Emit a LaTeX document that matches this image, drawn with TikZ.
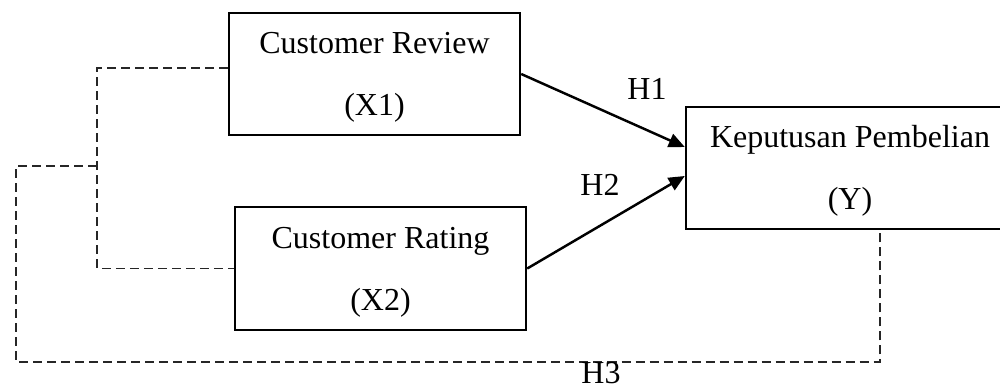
\documentclass[tikz,border=0pt]{standalone}
\usepackage{fontspec}
\setmainfont{Liberation Serif}
\usetikzlibrary{arrows.meta,calc}
\newcommand{\topgap}{\rule{0pt}{8pt}}
\begin{document}
\begin{tikzpicture}[x=0.01cm,y=-0.01cm,
  varbox/.style={draw,line width=0.7pt,inner sep=0pt,align=center,
    font=\fontsize{9.1pt}{17.6pt}\selectfont},
  path/.style={line width=0.7pt,-{Triangle[length=1.6mm,width=1.4mm]}},
  link/.style={line width=0.4pt,draw=black!85,dash pattern=on 0.09cm off 0.05cm},
  hlabel/.style={font=\fontsize{9.1pt}{11pt}\selectfont,inner sep=0pt}]
\useasboundingbox (0,0) rectangle (1000,387);
\node[varbox,minimum width=291*0.01cm,minimum height=122*0.01cm] (X1) at (374.5,74) {\topgap Customer Review\\(X1)};
\node[varbox,minimum width=291*0.01cm,minimum height=123*0.01cm] (X2) at (380.5,268.5) {\topgap Customer Rating\\(X2)};
\node[varbox,minimum width=328*0.01cm,minimum height=122*0.01cm] (Y) at (850,168) {\topgap Keputusan Pembelian\\(Y)};
\draw[path] (X1.east) -- ($(Y.west)+(0,-21)$);
\draw[path] (X2.east) -- ($(Y.west)+(0,8)$);
\coordinate (j) at (97,166);
\coordinate (bl) at (16,362);
\coordinate (br) at (880,362);
\draw[link] ($(X1.west)+(0,-6)$) -| (j) |- (X2.west);
\draw[link] (j) -| (bl) -- (br) -- (br |- Y.south);
\node[hlabel] (h1) at (647,89) {H1};
\node[hlabel] (h2) at (600,185) {H2};
\node[hlabel] (h3) at (601,373) {H3};
\end{tikzpicture}
\end{document}
